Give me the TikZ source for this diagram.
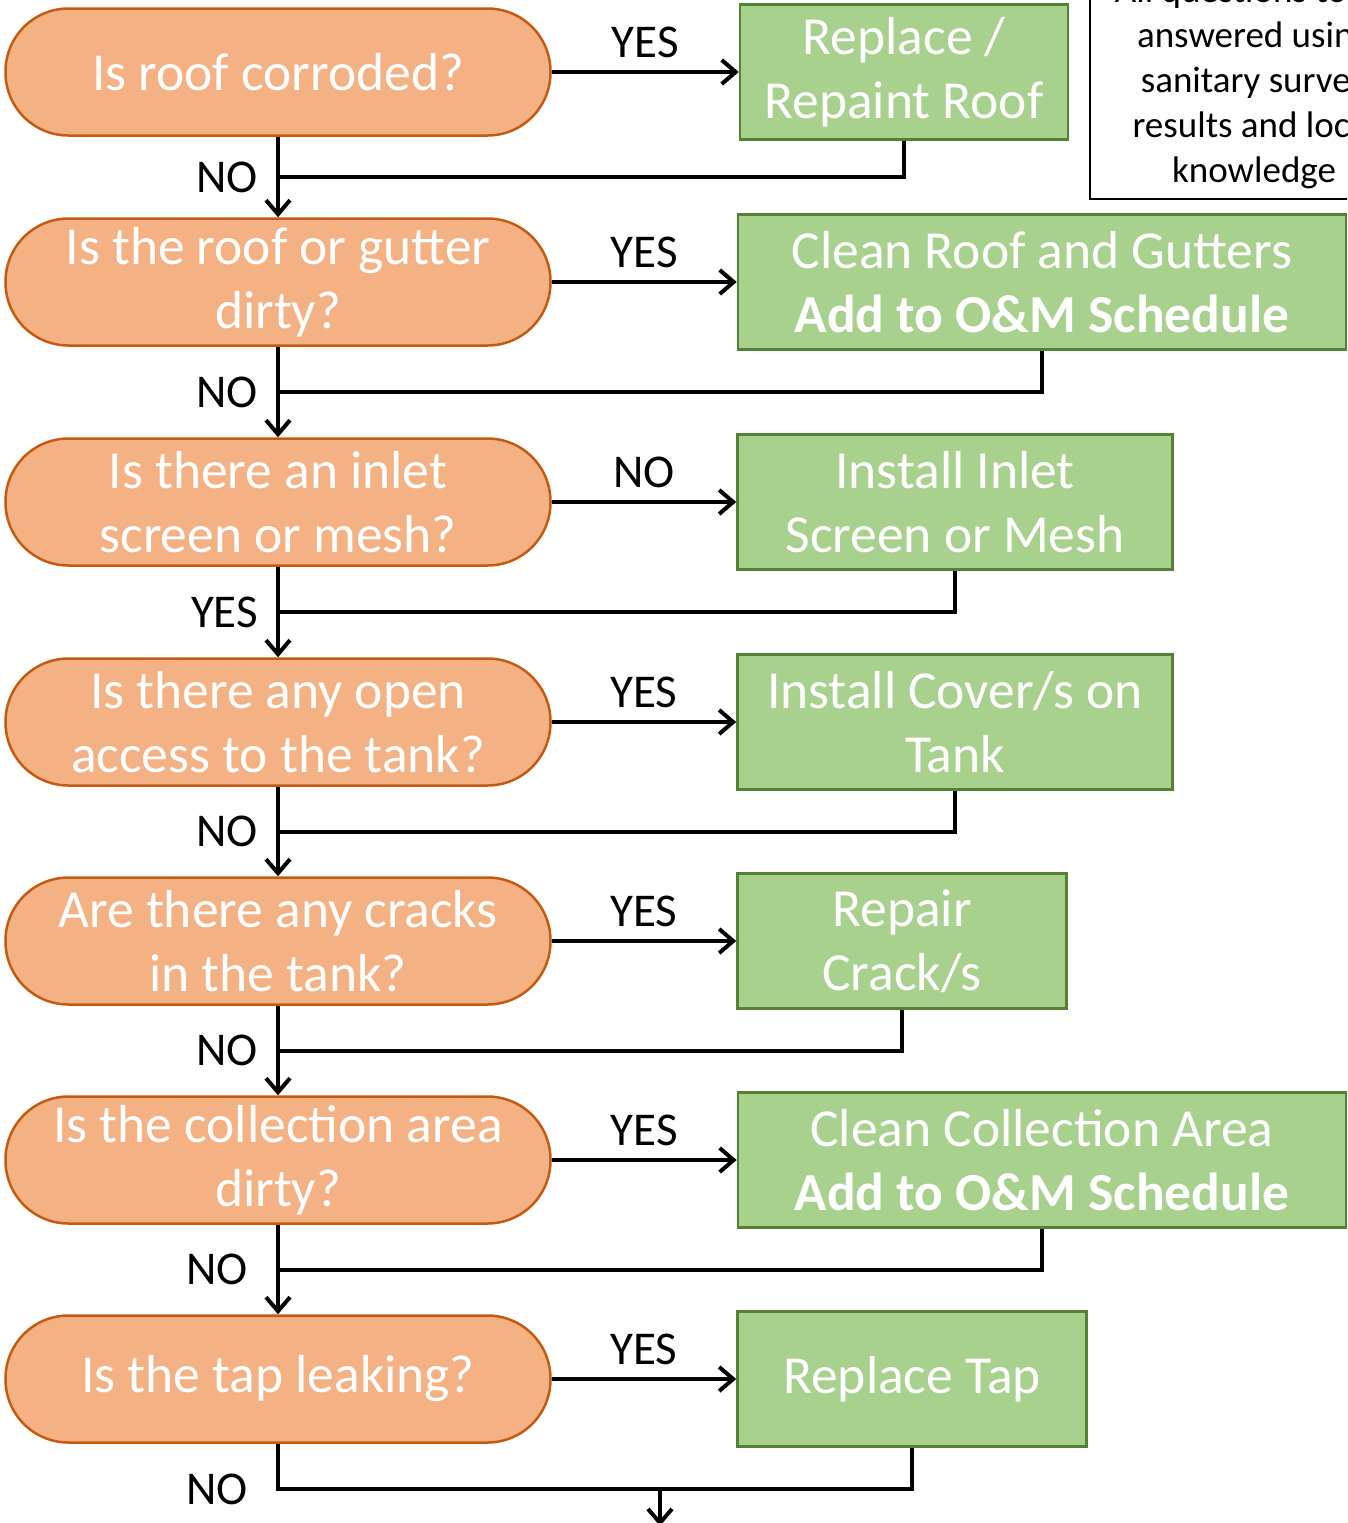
\documentclass[tikz,border=0pt]{standalone}
\usepackage{fontspec}
\setmainfont{Carlito}
\usetikzlibrary{arrows.meta,positioning,calc}
\definecolor{askfill}{HTML}{F4B183}
\definecolor{askline}{HTML}{C55A11}
\definecolor{actfill}{HTML}{A9D18E}
\definecolor{actline}{HTML}{548235}
\begin{document}
\begin{tikzpicture}[x=1pt,y=-1pt,on grid,auto,line width=4pt,
    >={Straight Barb[length=14pt,width=24pt]},
    ask/.style={rectangle,rounded corners=63pt,draw=askline,fill=askfill,line width=2.5pt,
      minimum width=545pt,minimum height=127pt,text=white,align=center,
      font=\fontsize{53.5}{64}\selectfont},
    act/.style={rectangle,draw=actline,fill=actfill,line width=2.5pt,
      minimum height=135pt,text=white,align=center,font=\fontsize{53.5}{64}\selectfont},
    yn/.style={font=\fontsize{47}{54}\selectfont,inner xsep=18pt,inner ysep=12pt}]
   \useasboundingbox (0,0) rectangle (1347,1523);
   \clip (0,0) rectangle (1347,1523);
   % questions
   \node[ask] (q_1) at (278,72) {Is roof corroded?};
   \node[ask] (q_2) [below=210pt of q_1] {Is the roof or gutter\\dirty?};
   \node[ask] (q_3) [below=220pt of q_2] {Is there an inlet\\screen or mesh?};
   \node[ask] (q_4) [below=220pt of q_3] {Is there any open\\access to the tank?};
   \node[ask] (q_5) [below=219pt of q_4] {Are there any cracks\\in the tank?};
   \node[ask] (q_6) [below=219pt of q_5] {Is the collection area\\dirty?};
   \node[ask] (q_7) [below=219pt of q_6] {Is the tap leaking?};
   % actions
   \node[act,minimum width=328pt] (a_1) [right=626pt of q_1] {Replace /\\Repaint Roof};
   \node[act,minimum width=608pt] (a_2) [right=764pt of q_2] {Clean Roof and Gutters\\\textbf{Add to O\&M Schedule}};
   \node[act,minimum width=435pt] (a_3) [right=677pt of q_3] {Install Inlet\\Screen or Mesh};
   \node[act,minimum width=435pt] (a_4) [right=677pt of q_4] {Install Cover/s on\\Tank};
   \node[act,minimum width=329pt] (a_5) [right=624pt of q_5] {Repair\\Crack/s};
   \node[act,minimum width=608pt] (a_6) [right=764pt of q_6] {Clean Collection Area\\\textbf{Add to O\&M Schedule}};
   \node[act,minimum width=349pt] (a_7) [right=634pt of q_7] {Replace Tap};
   \node[draw,line width=2pt,minimum width=328pt,minimum height=232pt,align=center,
     font=\fontsize{37}{45}\selectfont] (note) at (1254,83)
     {All questions to be\\answered using\\sanitary survey\\results and local\\knowledge};
    \path[->,nodes=yn]
    (q_1) edge node {YES} (a_1)
    (q_1) edge node[swap] {NO} (q_2)
    (q_2) edge node {YES} (a_2)
    (q_2) edge node[swap] {NO} (q_3)
    (q_3) edge node {NO} (a_3)
    (q_3) edge node[swap] {YES} (q_4)
    (q_4) edge node {YES} (a_4)
    (q_4) edge node[swap] {NO} (q_5)
    (q_5) edge node {YES} (a_5)
    (q_5) edge node[swap] {NO} (q_6)
    (q_6) edge node {YES} (a_6)
    (q_6) edge node[swap,xshift=-10pt] {NO} (q_7)
    (q_7) edge node {YES} (a_7);
   % back to the main line
   \draw (a_1) |- ($(q_1.south)!.5!(q_2.north)$);
   \draw (a_2) |- ($(q_2.south)!.5!(q_3.north)$);
   \draw (a_3) |- ($(q_3.south)!.5!(q_4.north)$);
   \draw (a_4) |- ($(q_4.south)!.5!(q_5.north)$);
   \draw (a_5) |- ($(q_5.south)!.5!(q_6.north)$);
   \draw (a_6) |- ($(q_6.south)!.5!(q_7.north)$);
   \coordinate[below=110pt of q_7] (j_7);
   \coordinate (exit) at (660,1526);
   \draw (q_7) -- node[yn,swap,pos=1,xshift=-10pt] {NO} (j_7) -| (a_7);
   \draw[->] (j_7 -| exit) -- (exit);
\end{tikzpicture}
\end{document}
